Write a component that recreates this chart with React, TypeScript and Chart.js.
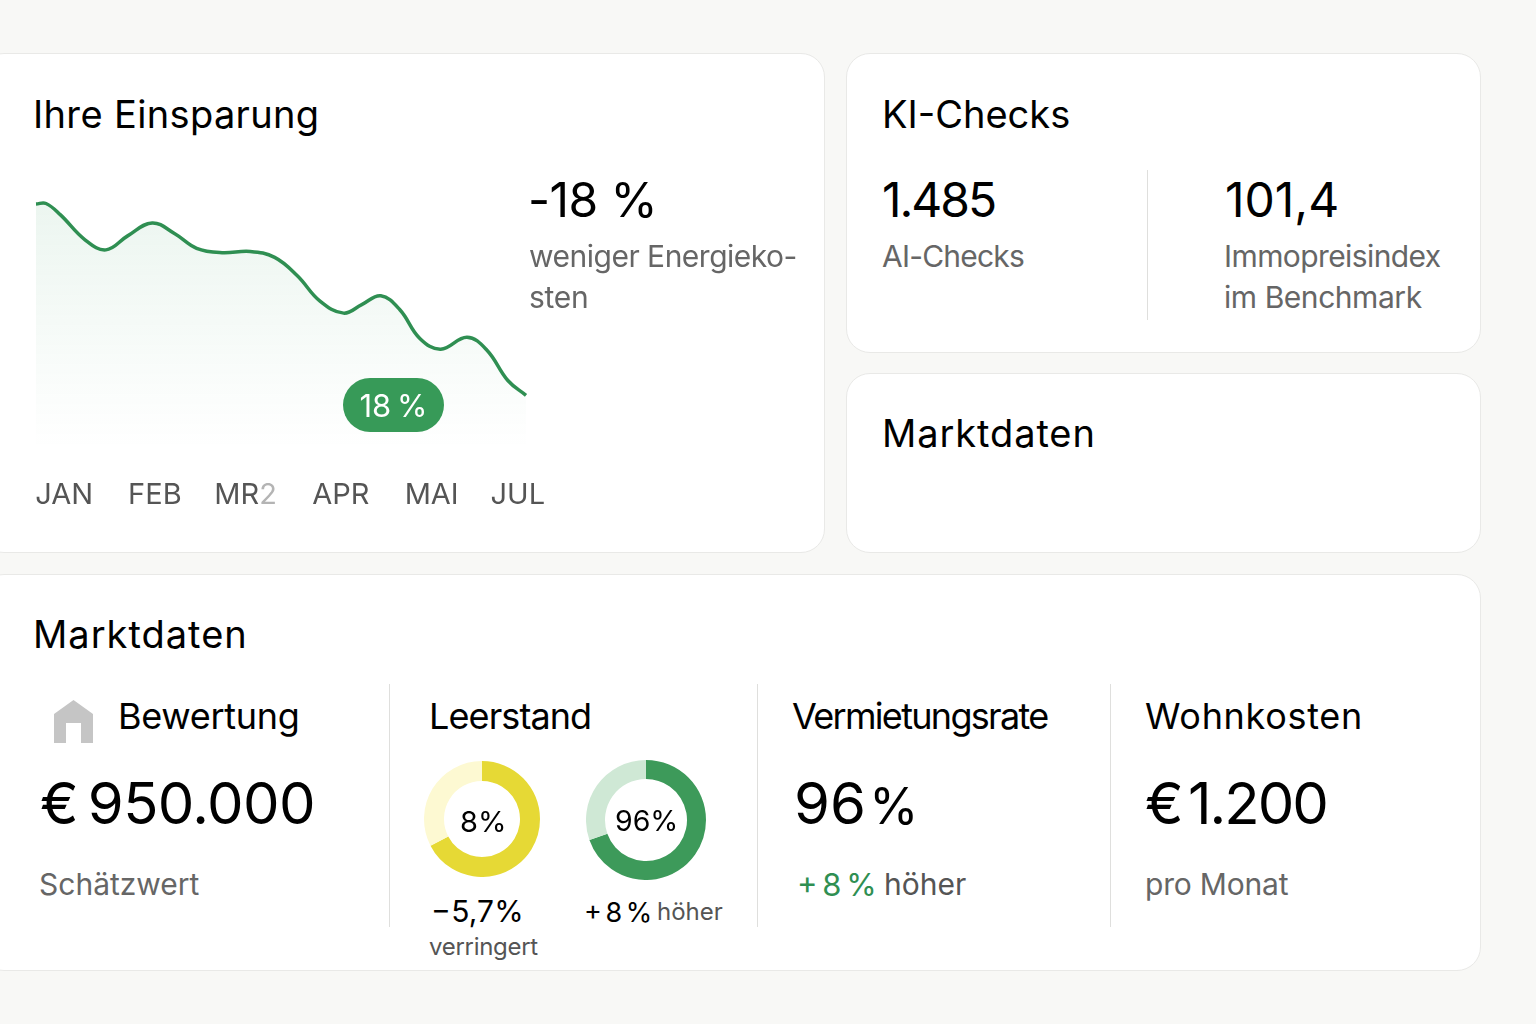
import React, { useEffect, useRef } from "react";
import { Chart, registerables } from "chart.js";

Chart.register(...registerables);

const monthLabels = ["JAN", "FEB", "MR2", "APR", "MAI", "JUL"];
const monthTicks = [0, 1, 2, 3.05, 4.05, 5];
const savingX = [-0.31, -0.2, -0.04, 0.23, 0.46, 0.7, 0.97, 1.22, 1.46, 1.74, 2.05, 2.32, 2.57, 2.82, 3.08, 3.28, 3.49, 3.7, 3.92, 4.15, 4.44, 4.66, 4.89, 5.09];
const savingY = [94.6, 94.8, 90.4, 80.8, 76.9, 82.3, 87.3, 83.1, 77.5, 75.8, 76.3, 74, 66.9, 57.1, 52.5, 55.8, 59.2, 53.8, 42.7, 38.6, 43.2, 38.2, 26.5, 20.8];
const vacancyShare = [67.4, 32.6];
const rentalShare = [69.6, 30.4];

const FONT = "Inter, sans-serif";

function T({ x, y, s, c = "#000", w = 400, ls = 0, ws = 0, children }: any) {
  return (
    <div style={{ position: "absolute", left: x, top: y, transform: "translateY(-50%)", fontSize: s, color: c, fontWeight: w, letterSpacing: ls, wordSpacing: ws, lineHeight: 1, whiteSpace: "nowrap", fontFamily: FONT }}>
      {children}
    </div>
  );
}

function Card({ x, y, w, h }: any) {
  return <div style={{ position: "absolute", left: x, top: y, width: w, height: h, boxSizing: "border-box", background: "#fff", border: "1.5px solid #e9e9e7", borderRadius: 24 }} />;
}

function Rule({ x, y, h }: any) {
  return <div style={{ position: "absolute", left: x, top: y, width: 1, height: h, background: "#dfdfdd" }} />;
}

const fadedDigit = {
  id: "fadedDigit",
  afterDraw(chart: any) {
    const scale = chart.scales.x;
    const item = scale.getLabelItems()[2];
    if (!item) return;
    const { ctx } = chart;
    ctx.save();
    ctx.font = "29px Inter";
    ctx.textAlign = "left";
    ctx.textBaseline = item.options.textBaseline;
    const [cx, cy] = item.options.translation;
    const full = ctx.measureText("MR2").width;
    const lead = ctx.measureText("MR").width;
    const left = cx - full / 2 + lead;
    const y = cy + item.textOffset;
    ctx.clearRect(left, scale.top, full - lead + 2, scale.bottom - scale.top);
    ctx.fillStyle = "#b4b4b4";
    ctx.fillText("2", left, y);
    ctx.restore();
  },
};

function LineChart() {
  const ref = useRef<HTMLCanvasElement>(null);
  useEffect(() => {
    const chart = new Chart(ref.current!, {
      type: "line",
      plugins: [fadedDigit],
      data: {
        datasets: [{
          data: savingX.map((x, i) => ({ x, y: savingY[i] })),
          borderColor: "#2f8f52",
          borderWidth: 3.5,
          pointRadius: 0,
          tension: 0.4,
          clip: false,
          fill: "origin",
          backgroundColor: (ctx: any) => {
            const a = ctx.chart.chartArea;
            if (!a) return "transparent";
            const g = ctx.chart.ctx.createLinearGradient(0, a.top, 0, a.bottom);
            g.addColorStop(0, "rgba(60,160,100,0.10)");
            g.addColorStop(0.5, "rgba(60,160,100,0.05)");
            g.addColorStop(1, "rgba(60,160,100,0)");
            return g;
          },
        }],
      },
      options: {
        animation: false,
        responsive: false,
        layout: { padding: { left: 36, right: 34, top: 20, bottom: 0 } },
        plugins: { legend: { display: false }, tooltip: { enabled: false } },
        scales: {
          y: { display: false, min: 0, max: 100 },
          x: {
            type: "linear",
            min: -0.31,
            max: 5.09,
            grid: { display: false },
            border: { display: false },
            afterBuildTicks: (axis: any) => { axis.ticks = monthTicks.map((value) => ({ value })); },
            afterFit: (axis: any) => { axis.paddingLeft = 0; axis.paddingRight = 0; },
            ticks: {
              autoSkip: false,
              maxRotation: 0,
              padding: 21,
              color: "#555",
              font: { family: "Inter", size: 29 },
              callback: (v: any) => monthLabels[monthTicks.indexOf(v)],
            },
          },
        },
      },
    } as any);
    return () => chart.destroy();
  }, []);
  return <canvas ref={ref} width={560} height={364} style={{ position: "absolute", left: 0, top: 170 }} />;
}

function Donut({ values, colors, cx, cy, r, inner }: any) {
  const ref = useRef<HTMLCanvasElement>(null);
  useEffect(() => {
    const chart = new Chart(ref.current!, {
      type: "doughnut",
      data: { datasets: [{ data: values, backgroundColor: colors, borderWidth: 0 }] },
      options: {
        animation: false,
        responsive: false,
        cutout: inner,
        plugins: { legend: { display: false }, tooltip: { enabled: false } },
      },
    } as any);
    return () => chart.destroy();
  }, []);
  return <canvas ref={ref} width={r * 2} height={r * 2} style={{ position: "absolute", left: cx - r, top: cy - r }} />;
}

export default function App() {
  return (
    <div style={{ position: "fixed", left: 0, top: 0, width: 1536, height: 1024, overflow: "hidden", background: "#f8f8f6", fontFamily: FONT }}>
      <Card x={-20} y={53} w={845} h={500} />
      <Card x={846} y={53} w={635} h={300} />
      <Card x={846} y={373} w={635} h={180} />
      <Card x={-20} y={574} w={1501} h={397} />

      <T x={33} y={114} s={38} ls={0.35}>Ihre Einsparung</T>
      <LineChart />
      <div style={{ position: "absolute", left: 343, top: 378, width: 101, height: 54, borderRadius: 27, background: "#379a58", color: "#fff", fontFamily: FONT, fontSize: 31, wordSpacing: -3, lineHeight: "56px", textAlign: "center" }}>18 %</div>
      <T x={528} y={200} s={48} ls={-0.6}>-18 %</T>
      <T x={529} y={256} s={30} ls={-0.5} c="#666">weniger Energieko-</T>
      <T x={529} y={297} s={30} ls={-0.3} c="#666">sten</T>

      <T x={882} y={114} s={38}>KI-Checks</T>
      <T x={882} y={200} s={48} ls={-2}>1.485</T>
      <T x={882} y={256} s={30} ls={-0.8} c="#666">AI-Checks</T>
      <Rule x={1147} y={170} h={150} />
      <T x={1225} y={200} s={48}>101,4</T>
      <T x={1224} y={256} s={30} ls={-0.6} c="#666">Immopreisindex</T>
      <T x={1224} y={297} s={30} ls={-0.45} c="#666">im Benchmark</T>

      <T x={882} y={433} s={38} ls={0.9}>Marktdaten</T>
      <T x={33} y={634} s={38} ls={1}>Marktdaten</T>

      <svg width={40} height={44} viewBox="0 0 40 44" style={{ position: "absolute", left: 54, top: 700 }}>
        <path d="M0 14 L19.5 0 L39 14 V43 H27 V23 H12 V43 H0 Z" fill="#c5c5c5" />
      </svg>
      <T x={118} y={716} s={36} ls={-0.3}>Bewertung</T>
      <T x={40} y={803} s={58} ls={-0.6} ws={-6}>€ 950.000</T>
      <T x={39} y={884} s={30} c="#666">Schätzwert</T>
      <Rule x={389} y={684} h={243} />

      <T x={429} y={716} s={36} ls={-0.9}>Leerstand</T>
      <Donut values={vacancyShare} colors={["#e6d935", "#fdf9d2"]} cx={482} cy={819} r={58} inner={38} />
      <Donut values={rentalShare} colors={["#3d9a5a", "#cfe8d5"]} cx={646} cy={820} r={60} inner={41} />
      <T x={460} y={821} s={29}>8%</T>
      <T x={615} y={821} s={28.5}>96%</T>
      <T x={431} y={911} s={30} ws={-8}>− 5,7 %</T>
      <T x={429} y={947} s={24} ls={-0.3} c="#555">verringert</T>
      <T x={584} y={912} s={27} ws={-4}>+ 8 %</T>
      <T x={657} y={912} s={24} c="#555">höher</T>
      <Rule x={757} y={684} h={243} />

      <T x={792} y={716} s={36} ls={-1.7}>Vermietungsrate</T>
      <T x={794} y={803} s={58} ws={-13}>96 <span style={{ fontSize: 50 }}>%</span></T>
      <T x={797} y={884} s={31} ws={-4} c="#2f8f52">+ 8 %</T>
      <T x={884} y={884} s={30} c="#555">höher</T>
      <Rule x={1110} y={684} h={243} />

      <T x={1145} y={716} s={36} ls={0.7}>Wohnkosten</T>
      <T x={1145} y={803} s={58} ls={-2} ws={-8}>€ 1.200</T>
      <T x={1145} y={884} s={30} ls={-0.2} c="#666">pro Monat</T>
    </div>
  );
}
